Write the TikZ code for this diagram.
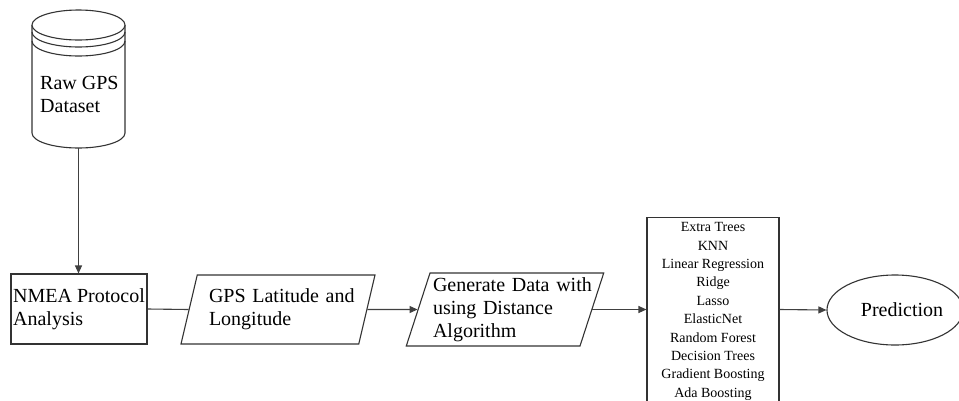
\documentclass[tikz,border=0pt]{standalone}
\usepackage{fontspec}
\setmainfont{Liberation Serif}
\usetikzlibrary{shapes.geometric,arrows.meta}
\tikzset{
  shp/.style={draw=black!80, line width=1.1pt, fill=white},
  big/.style={font=\fontsize{20}{23}\selectfont},
  para/.style={shp, big, trapezium, trapezium left angle=72, trapezium right angle=108,
    trapezium stretches body=true, minimum height=69pt, minimum width=194pt,
    inner xsep=0pt, inner ysep=2pt, text width=150pt, align=left},
  conn/.style={draw=black!75, line width=1.1pt},
  arr/.style={conn, -{Triangle[length=8pt,width=7pt]}}
}
\newcommand{\plines}[2]{\begin{tabular}{@{\hspace{#1}}l@{}}#2\end{tabular}}
\begin{document}
\begin{tikzpicture}[x=1pt,y=-1pt]
\clip (0,0) rectangle (959,400);
\fill[white] (0,0) rectangle (959,400);
% cylinder
\draw[shp] (32,25) -- (32,133) arc[start angle=180,end angle=0,x radius=46.5,y radius=15] -- (125,25);
\draw[shp] (78.5,25) ellipse[x radius=46.5,y radius=15];
\draw[shp, fill=none] (32,32) arc[start angle=180,end angle=0,x radius=46.5,y radius=15];
\draw[shp, fill=none] (32,41) arc[start angle=180,end angle=0,x radius=46.5,y radius=15];
\node[big, align=left, anchor=west, inner sep=0] (raw) at (40,94) {Raw GPS\\Dataset};
\coordinate (rawbot) at (78.5,148);
% NMEA
\node[shp, big, align=left, minimum width=136pt, minimum height=70pt, inner sep=1pt] (nmea) at (79,309) {NMEA Protocol\\Analysis};
% GPS
\node[para] (gps) at (278,309.5) {\plines{6pt}{GPS Latitude and\\Longitude}};
% Generate
\node[para] (gen) at (505,309.5) {\plines{3pt}{Generate Data with\\using Distance\\Algorithm}};
% models
\node[shp, anchor=north, minimum width=132pt, inner xsep=2pt, inner ysep=5pt, align=center,
  font=\fontsize{14}{18.4}\selectfont] (models) at (713,217)
  {Extra Trees\\KNN\\Linear Regression\\Ridge\\Lasso\\ElasticNet\\Random Forest\\Decision Trees\\Gradient Boosting\\Ada Boosting};
% prediction
\node[shp, big, ellipse, minimum width=130pt, minimum height=70pt, inner sep=0] (pred) at (895,310) {\hspace{14pt}Prediction};
% connectors
\draw[arr] (rawbot) -- (rawbot |- nmea.north);
\draw[conn] (nmea.east) -- (gps.west);
\draw[arr] (gps.east) -- (gen.west);
\draw[arr] (gen.east) -- (gen.east -| models.west);
\draw[arr] (gen.east -| models.east) -- (pred.west);
\end{tikzpicture}
\end{document}
